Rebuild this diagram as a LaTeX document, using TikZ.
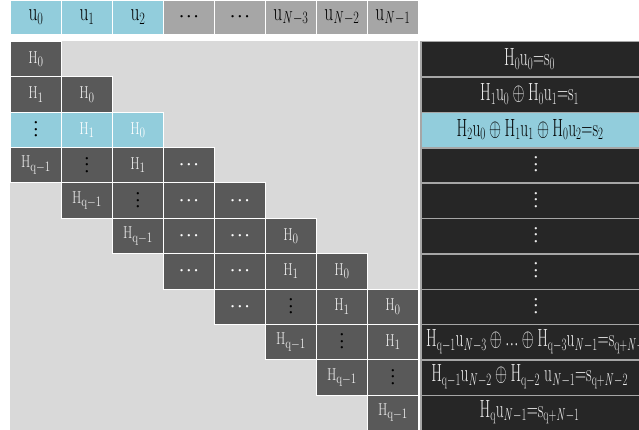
\documentclass[tikz,border=0pt]{standalone}
\usepackage{graphicx}
\definecolor{cblue}{HTML}{92CDDC}
\definecolor{cdark}{HTML}{595959}
\definecolor{cbg}{HTML}{D9D9D9}
\definecolor{cblack}{HTML}{262626}
\definecolor{ctop}{HTML}{A6A6A6}
\definecolor{csep}{HTML}{A6A6A6}
\definecolor{ctxt}{HTML}{EEEEEE}
\newcommand\mx[1]{\scalebox{0.78}[1]{$\mathrm{#1}$}}
\newcommand\tp[1]{\scalebox{0.7}[1]{$\mathrm{#1}$}}
\newcommand\rx[1]{\scalebox{0.62}[1]{$\mathrm{#1}$}}
\newcommand\bdots{\hbox{\fontsize{8}{8}\selectfont\textbullet\kern0.6pt\textbullet\kern0.6pt\textbullet}}
\newcommand\vbdots{\vbox{\fontsize{8}{8}\selectfont\baselineskip=6.5pt\lineskiplimit=-20pt\lineskip=0pt\hbox{\textbullet}\hbox{\textbullet}\hbox{\textbullet}}}
\newcommand\vdk{{\color{black}\vbdots}}
\newcommand\hdw{{\color{white}\bdots}}
\newcommand\cellat[4]{\node[cell,#3] (m#1c#2) at ({10+51*#2},{41+35.36*#1}) {#4};}
\newcommand\topat[3]{\node[tcell,#2] (u#1) at ({10+51*#1},0) {#3};}
\newcommand\rowat[3]{\node[rcell,#2] (s#1) at (420,{41+35.36*#1}) {};}
\begin{document}
\begin{tikzpicture}[x=1pt,y=-1pt,
  cell/.style={draw=white, line width=0.8pt, minimum width=51pt, minimum height=35.36pt,
    inner sep=0pt, anchor=north west, fill=cdark, text=ctxt, font=\fontsize{19}{19}\selectfont},
  bluecell/.style={fill=cblue, text=white},
  tcell/.style={draw=white, line width=0.8pt, minimum width=51pt, minimum height=34pt,
    inner sep=0pt, anchor=north west, fill=ctop, text=black, font=\fontsize{26}{26}\selectfont},
  tblue/.style={fill=cblue},
  rcell/.style={draw=csep, line width=1.5pt, minimum width=240pt, minimum height=35.36pt,
    inner sep=0pt, anchor=north west, fill=cblack},
  rblue/.style={fill=cblue},
  rtext/.style={text=ctxt, font=\fontsize{24}{24}\selectfont, inner sep=0pt},
  rtextb/.style={rtext, text=black}
]
\useasboundingbox (0,0) rectangle (639,430);
\clip (0,0) rectangle (639,430);
% top row
\topat{0}{tblue}{\tp{u_0}}
\topat{1}{tblue}{\tp{u_1}}
\topat{2}{tblue}{\tp{u_2}}
\topat{3}{}{\bdots}
\topat{4}{}{\bdots}
\topat{5}{}{\tp{u_{\mathit{N}-3}}}
\topat{6}{}{\tp{u_{\mathit{N}-2}}}
\topat{7}{}{\tp{u_{\mathit{N}-1}}}
% background
\fill[cbg] (10,41) rectangle (418,430);
% matrix
\cellat{0}{0}{}{\mx{H_0}}
\cellat{1}{0}{}{\mx{H_1}}
\cellat{1}{1}{}{\mx{H_0}}
\cellat{2}{0}{bluecell}{\vdk}
\cellat{2}{1}{bluecell}{\mx{H_1}}
\cellat{2}{2}{bluecell}{\mx{H_0}}
\cellat{3}{0}{}{\mx{H_{q-1}}}
\cellat{3}{1}{}{\vdk}
\cellat{3}{2}{}{\mx{H_1}}
\cellat{3}{3}{}{\hdw}
\cellat{4}{1}{}{\mx{H_{q-1}}}
\cellat{4}{2}{}{\vdk}
\cellat{4}{3}{}{\hdw}
\cellat{4}{4}{}{\hdw}
\cellat{5}{2}{}{\mx{H_{q-1}}}
\cellat{5}{3}{}{\hdw}
\cellat{5}{4}{}{\hdw}
\cellat{5}{5}{}{\mx{H_0}}
\cellat{6}{3}{}{\hdw}
\cellat{6}{4}{}{\hdw}
\cellat{6}{5}{}{\mx{H_1}}
\cellat{6}{6}{}{\mx{H_0}}
\cellat{7}{4}{}{\hdw}
\cellat{7}{5}{}{\vdk}
\cellat{7}{6}{}{\mx{H_1}}
\cellat{7}{7}{}{\mx{H_0}}
\cellat{8}{5}{}{\mx{H_{q-1}}}
\cellat{8}{6}{}{\vdk}
\cellat{8}{7}{}{\mx{H_1}}
\cellat{9}{6}{}{\mx{H_{q-1}}}
\cellat{9}{7}{}{\vdk}
\cellat{10}{7}{}{\mx{H_{q-1}}}
% right column
\rowat{0}{}{}
\rowat{1}{}{}
\rowat{2}{rblue}{}
\rowat{3}{}{}
\rowat{4}{}{}
\rowat{5}{}{}
\rowat{6}{}{}
\rowat{7}{}{}
\rowat{8}{}{}
\rowat{9}{}{}
\rowat{10}{}{}
\node[rtext] (e0) at (529.5,{41+35.36*0.5}) {\rx{H_0u_0{=}s_0}};
\node[rtext] (e1) at (529.5,{41+35.36*1.5}) {\rx{H_1u_0\oplus H_0u_1{=}s_1}};
\node[rtextb] (e2) at (530,{41+35.36*2.5}) {\rx{H_2u_0\oplus H_1u_1\oplus H_0u_2{=}s_2}};
\node[rtext] (e3) at (536,{41+35.36*3.5}) {\vbdots};
\node[rtext] (e4) at (536,{41+35.36*4.5}) {\vbdots};
\node[rtext] (e5) at (536,{41+35.36*5.5}) {\vbdots};
\node[rtext] (e6) at (536,{41+35.36*6.5}) {\vbdots};
\node[rtext] (e7) at (536,{41+35.36*7.5}) {\vbdots};
\node[rtext, anchor=west] (e8) at (426,{41+35.36*8.5}) {\rx{H_{q-1}u_{\mathit{N}-3}\oplus\mbox{\bdots}\oplus H_{q-3}u_{\mathit{N}-1}{=}s_{q+\mathit{N}-1}}};
\node[rtext] (e9) at (529.5,{41+35.36*9.5}) {\rx{H_{q-1}u_{\mathit{N}-2}\oplus H_{q-2}\;u_{\mathit{N}-1}{=}s_{q+\mathit{N}-2}}};
\node[rtext] (e10) at (529.5,{41+35.36*10.5}) {\rx{H_qu_{\mathit{N}-1}{=}s_{q+\mathit{N}-1}}};
\end{tikzpicture}
\end{document}
